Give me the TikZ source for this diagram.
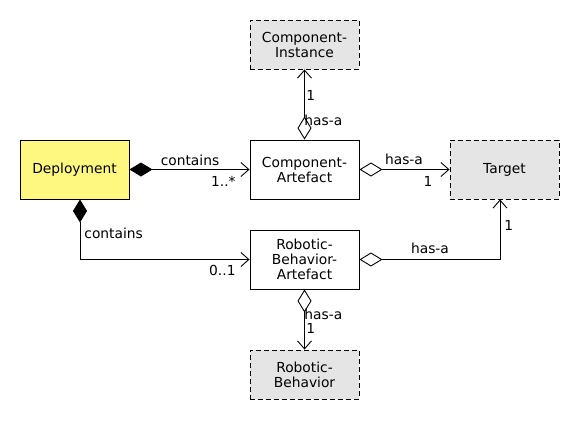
\documentclass[tikz,border=0pt]{standalone}
\usepackage{fontspec}
\setmainfont{DejaVu Sans}
\usetikzlibrary{arrows.meta}

\begin{document}
\begin{tikzpicture}[x=1pt, y=-1pt, line width=0.9pt,
  every node/.style={font=\fontsize{13.8}{15}\selectfont, inner sep=0pt},
  cls/.style={draw, align=center, minimum width=109pt, minimum height=59pt},
  ext/.style={cls, dash pattern=on 5pt off 3pt, fill=gray!20, minimum height=49pt},
  comp/.style={{Diamond[length=23pt,width=14pt]}-{Straight Barb[length=8pt,width=14pt]}},
  agg/.style={{Diamond[open,length=23pt,width=14pt]}-{Straight Barb[length=8pt,width=14pt]}}]
\useasboundingbox (0,0) rectangle (580,420);
\node[cls,fill=yellow!50] (dep) at (74.5,169.5) {Deployment};
\node[cls] (ca) at (304.5,169.5) {Component-\\Artefact};
\node[ext] (ci) at (304.5,44.5) {Component-\\Instance};
\node[ext, minimum height=59pt] (tgt) at (504.5,169.5) {Target};
\node[cls] (rba) at (304.5,259.5) {Robotic-\\Behavior-\\Artefact};
\node[ext] (rb) at (304.5,374.5) {Robotic-\\Behavior};
% compositions
\draw[comp] (dep.east)--(ca.west);
\draw[comp] ([xshift=5.5pt]dep.south) |- (rba.west);
% aggregations
\draw[agg] (ca.north)--(ci.south);
\draw[agg] (ca.east)--(tgt.west);
\draw[agg] (rba.east) -| ([xshift=-4.5pt]tgt.south);
\draw[agg] (rba.south)--(rb.north);
% labels
\node (l1) at (190,160) {contains};
\node[anchor=east] (m1) at (236,181) {1..*};
\node[anchor=west] (l2) at (84,233) {contains};
\node[anchor=east] (m2) at (236,270) {0..1};
\node[anchor=west] (l3) at (304,120) {has-a};
\node[anchor=west] (m3) at (306,95) {1};
\node (l4) at (404,159) {has-a};
\node (m4) at (428,181) {1};
\node (l5) at (430,248) {has-a};
\node[anchor=west] (m5) at (504,225) {1};
\node[anchor=west] (l6) at (304,314) {has-a};
\node[anchor=west] (m6) at (306,328) {1};
\end{tikzpicture}
\end{document}
